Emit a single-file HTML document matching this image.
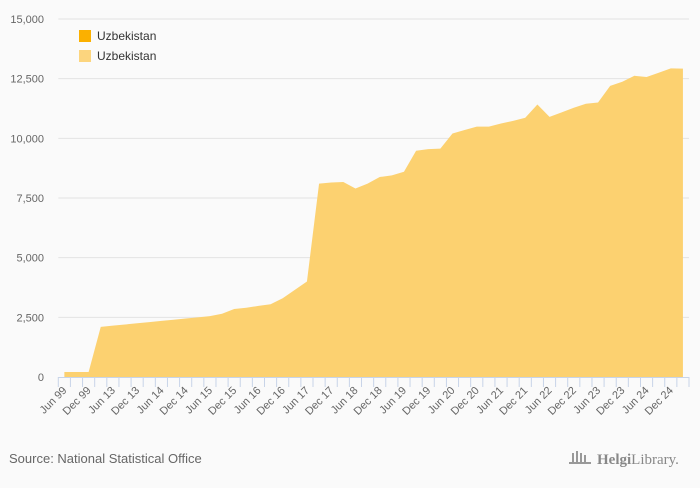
<!DOCTYPE html>
<html><head><meta charset="utf-8"><style>
html,body{margin:0;padding:0;background:#fafafa;}
body{width:700px;height:483px;overflow:hidden;font-family:"Liberation Sans",sans-serif;}
</style></head><body>
<svg id="chart" width="700" height="483" viewBox="0 0 700 483" xmlns="http://www.w3.org/2000/svg">
<rect width="700" height="483" fill="#fafafa"/>
<g id="grid"></g>
<g id="yaxis"></g>
<g id="series"></g>
<g id="xaxis"></g>
<g>
 <g><rect x="79" y="30" width="12" height="12" fill="#fbb000"/><text x="97" y="40" font-size="12" fill="#333">Uzbekistan</text></g>
 <g><rect x="79" y="50" width="12" height="12" fill="#fcd57e"/><text x="97" y="60" font-size="12" fill="#333">Uzbekistan</text></g>
</g>
<text x="9" y="463" font-size="13" fill="#666">Source: National Statistical Office</text>
<g>
 <g fill="#999"><rect x="572" y="453" width="2" height="9"/><rect x="576" y="451" width="2" height="11"/><rect x="580" y="453" width="2" height="9"/><rect x="584" y="455" width="2" height="7"/><rect x="569" y="462" width="22" height="2"/></g>
 <text x="597" y="464" font-size="15" fill="#888" font-family="Liberation Serif,serif"><tspan font-weight="bold">Helgi</tspan>Library.</text>
</g>
</svg>
<script>
const categories=["Jun 99","Sep 99","Dec 99","Mar 13","Jun 13","Sep 13","Dec 13","Mar 14","Jun 14","Sep 14","Dec 14","Mar 15","Jun 15","Sep 15","Dec 15","Mar 16","Jun 16","Sep 16","Dec 16","Mar 17","Jun 17","Sep 17","Dec 17","Mar 18","Jun 18","Sep 18","Dec 18","Mar 19","Jun 19","Sep 19","Dec 19","Mar 20","Jun 20","Sep 20","Dec 20","Mar 21","Jun 21","Sep 21","Dec 21","Mar 22","Jun 22","Sep 22","Dec 22","Mar 23","Jun 23","Sep 23","Dec 23","Mar 24","Jun 24","Sep 24","Dec 24","Mar 25"];
const values=[210,210,210,2100,2150,2200,2250,2300,2350,2400,2450,2500,2550,2650,2850,2900,2980,3050,3300,3650,4000,8100,8150,8170,7900,8100,8380,8450,8600,9480,9550,9570,10200,10350,10490,10490,10620,10730,10860,11420,10900,11090,11280,11450,11500,12200,12370,12620,12570,12750,12930,12920];
const yTicks=[0,2500,5000,7500,10000,12500,15000];
const yTickLabels=["0","2,500","5,000","7,500","10,000","12,500","15,000"];
const NS="http://www.w3.org/2000/svg";
const L=58.3,R=689,T=19,B=377,yMax=15000;
const bw=(R-L)/categories.length;
function xs(i){return L+bw*(i+0.5);}
function ys(v){return B-(v/yMax)*(B-T);}
function mk(t,a,p){const e=document.createElementNS(NS,t);for(const k in a)e.setAttribute(k,a[k]);p.appendChild(e);return e;}
const grid=document.getElementById('grid'),yax=document.getElementById('yaxis'),xax=document.getElementById('xaxis'),ser=document.getElementById('series');
yTicks.forEach((v,i)=>{
 if(v>0){const g=mk('line',{x1:L,x2:R,y1:ys(v),y2:ys(v),stroke:'#e3e3e3','stroke-width':1},grid);
 
 }
 const t=mk('text',{x:44,y:ys(v)+4,'text-anchor':'end','font-size':11,fill:'#666'},yax);
 t.textContent=yTickLabels[i];
 
 
});
let d='M'+xs(0)+','+ys(0);
values.forEach((v,i)=>{d+=' L'+xs(i)+','+ys(v);});
d+=' L'+xs(values.length-1)+','+ys(0)+' Z';
const area=mk('path',{d:d,fill:'#fcd170'},ser);


const ax=mk('line',{x1:L,x2:R,y1:B+0.5,y2:B+0.5,stroke:'#c8d4e8','stroke-width':1},xax);


for(let i=0;i<=categories.length;i++){
 const x=L+bw*i;
 const tk=mk('line',{x1:x,x2:x,y1:B,y2:B+10,stroke:'#c8d4e8','stroke-width':1},xax);
 
 
}
categories.forEach((c,i)=>{
 if(i%2!==0)return;
 const x=xs(i)+3,y=B+14;
 const t=mk('text',{x:x,y:y,'text-anchor':'end','font-size':11,fill:'#666',transform:'rotate(-45 '+x+' '+y+')'},xax);
 t.textContent=c;
 
 
});
</script>
</body></html>
